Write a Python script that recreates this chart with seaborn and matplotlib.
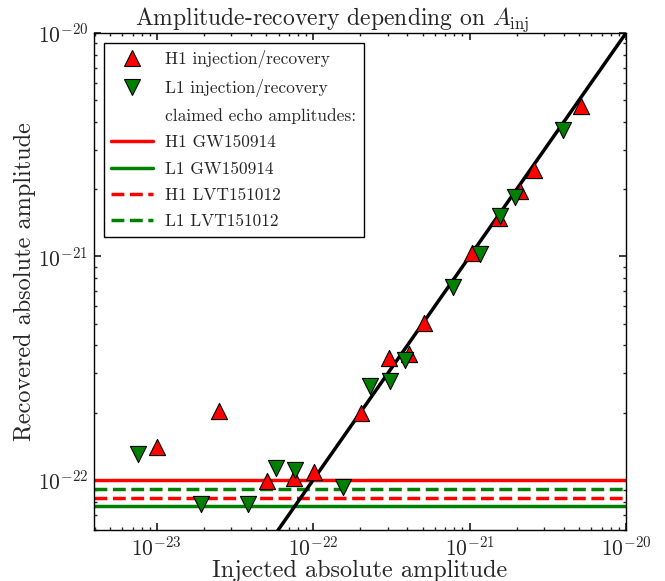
import numpy as np
import matplotlib
matplotlib.use("Agg")
import matplotlib.pyplot as plt
from matplotlib.lines import Line2D
import seaborn as sns

# Injected vs. recovered echo amplitudes per detector
h1_injected = [1.0e-23, 2.5e-23, 5.07e-23, 7.53e-23, 1.01e-22, 2.02e-22, 3.05e-22,
               4.10e-22, 5.10e-22, 1.03e-21, 1.54e-21, 2.10e-21, 2.58e-21, 5.15e-21]
h1_recovered = [1.41e-22, 2.04e-22, 0.99e-22, 1.02e-22, 1.09e-22, 2.00e-22, 3.52e-22,
                3.66e-22, 5.04e-22, 1.04e-21, 1.49e-21, 1.96e-21, 2.44e-21, 4.71e-21]
l1_injected = [7.59e-24, 1.92e-23, 3.83e-23, 5.78e-23, 7.65e-23, 1.55e-22, 2.31e-22,
               3.10e-22, 3.86e-22, 7.83e-22, 1.17e-21, 1.56e-21, 1.95e-21, 3.95e-21]
l1_recovered = [1.31e-22, 7.82e-23, 7.82e-23, 1.13e-22, 1.11e-22, 0.93e-22, 2.64e-22,
                2.77e-22, 3.44e-22, 7.31e-22, 1.03e-21, 1.52e-21, 1.85e-21, 3.68e-21]

# Claimed echo amplitudes (horizontal reference levels)
echo_labels = ["H1 GW150914", "L1 GW150914", "H1 LVT151012", "L1 LVT151012"]
echo_amplitudes = [1.0e-22, 0.767e-22, 0.828e-22, 0.908e-22]
echo_colors = ["red", "green", "red", "green"]
echo_styles = ["-", "-", "--", "--"]

# Perfect-recovery reference line A_rec = A_inj
identity = [1e-24, 1e-20]

sns.set_theme(style="ticks")
plt.rcParams.update({
    "font.family": ["cmr10", "DejaVu Serif"],
    "mathtext.fontset": "cm",
    "axes.formatter.use_mathtext": True,
    "axes.unicode_minus": False,
    "xtick.direction": "in",
    "ytick.direction": "in",
    "xtick.top": True,
    "ytick.right": True,
    "xtick.major.size": 5,
    "ytick.major.size": 5,
    "xtick.minor.size": 2.5,
    "ytick.minor.size": 2.5,
    "axes.edgecolor": "black",
    "axes.linewidth": 1.0,
})

fig = plt.figure(figsize=(6.65, 5.81), dpi=100)
ax = fig.add_axes([0.1414, 0.0878, 0.80, 0.8554])
ax.set_xscale("log")
ax.set_yscale("log")

for amp, col, ls in zip(echo_amplitudes, echo_colors, echo_styles):
    ax.axhline(amp, color=col, linestyle=ls, linewidth=2.5, zorder=1)

sns.lineplot(x=identity, y=identity, color="black", linewidth=2.5, ax=ax, zorder=2)

sns.scatterplot(x=h1_injected, y=h1_recovered, marker="^", s=135, color="red",
                edgecolor="black", linewidth=0.8, ax=ax, zorder=3)
sns.scatterplot(x=l1_injected, y=l1_recovered, marker="v", s=135, color="green",
                edgecolor="black", linewidth=0.8, ax=ax, zorder=3)

ax.set_xlim(3.97e-24, 1e-20)
ax.set_ylim(5.97e-23, 1e-20)

ax.tick_params(axis="both", which="major", labelsize=15.5, pad=4)
ax.set_xlabel("Injected absolute amplitude", fontsize=17.5, labelpad=0)
ax.set_ylabel("Recovered absolute amplitude", fontsize=17.5, labelpad=1)
fig.suptitle(r"Amplitude-recovery depending on $A_{\rm inj}$", fontsize=17, y=0.99)

handles = [
    Line2D([], [], linestyle="none", marker="^", markersize=11.5, markerfacecolor="red",
           markeredgecolor="black", markeredgewidth=0.8),
    Line2D([], [], linestyle="none", marker="v", markersize=11.5, markerfacecolor="green",
           markeredgecolor="black", markeredgewidth=0.8),
    Line2D([], [], color="none"),
]
labels = ["H1 injection/recovery", "L1 injection/recovery", "claimed echo amplitudes:"]
for lab, col, ls in zip(echo_labels, echo_colors, echo_styles):
    handles.append(Line2D([], [], color=col, linestyle=ls, linewidth=2.5))
    labels.append(lab)

leg = ax.legend(handles, labels, loc="upper left", fontsize=12.5, frameon=True,
                fancybox=False, edgecolor="black", framealpha=1, handlelength=2.4,
                borderaxespad=0.55, labelspacing=0.63, borderpad=0.45,
                handletextpad=0.7)
leg.get_frame().set_linewidth(1.0)

fig.savefig("out.png", dpi=100)
